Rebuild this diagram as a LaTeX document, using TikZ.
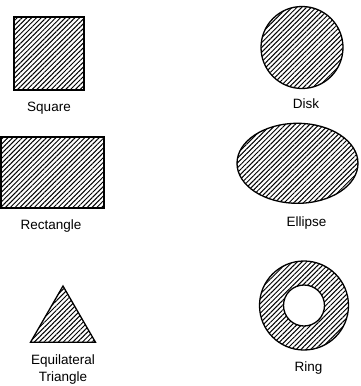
\documentclass[tikz,border=0pt]{standalone}
\usepackage{fontspec}
\setmainfont{Liberation Sans}
\usetikzlibrary{positioning, shapes.geometric, patterns.meta}
\tikzset{
  hatched/.style={draw, line width=1.3pt, inner sep=0pt, outer sep=0pt,
    pattern={Lines[angle=45, distance=3.4pt, line width=1pt]}},
  blank/.style={draw, line width=1.3pt, fill=white, inner sep=0pt, outer sep=0pt},
  captionfont/.style={font=\fontsize{13.5}{17}\selectfont, inner sep=0pt, align=center},
  caption/.style={captionfont, text height=10pt, text depth=3pt}
}

\begin{document}
\begin{tikzpicture}[x=1pt, y=-1pt]
  \useasboundingbox[fill=white] (0,0) rectangle (360,386);
  % left column
  \node[hatched, minimum width=70pt, minimum height=73pt] (square) at (49,53.5) {};
  \node[caption, below=11.5pt of square] (squaretext) {Square};
  \node[hatched, minimum width=103pt, minimum height=71pt] (rect) at (52.5,172.5) {};
  \node[caption, below=10.8pt of rect, xshift=-1.5pt] (recttext) {Rectangle};
  \node[hatched, regular polygon, regular polygon sides=3, minimum size=75pt] (tri) at (63,323.5) {};
  \node[captionfont, below=12pt of tri] (tritext) {Equilateral\\Triangle};
  % right column
  \node[hatched, circle, minimum size=82pt] (disk) at (302,47.5) {};
  \node[caption, below=9.5pt of disk, xshift=4pt] (disktext) {Disk};
  \node[hatched, ellipse, minimum width=121pt, minimum height=80pt] (ellipse) at (297.5,163.3) {};
  \node[caption, below=12.5pt of ellipse, xshift=9pt] (ellipsetext) {Ellipse};
  \node[hatched, circle, minimum size=89pt] (ring) at (304,305.5) {};
  \node[blank, circle, minimum size=41pt] (hole) at (ring.center) {};
  \node[caption, below=11.5pt of ring, xshift=4.5pt] (ringtext) {Ring};
\end{tikzpicture}
\end{document}
